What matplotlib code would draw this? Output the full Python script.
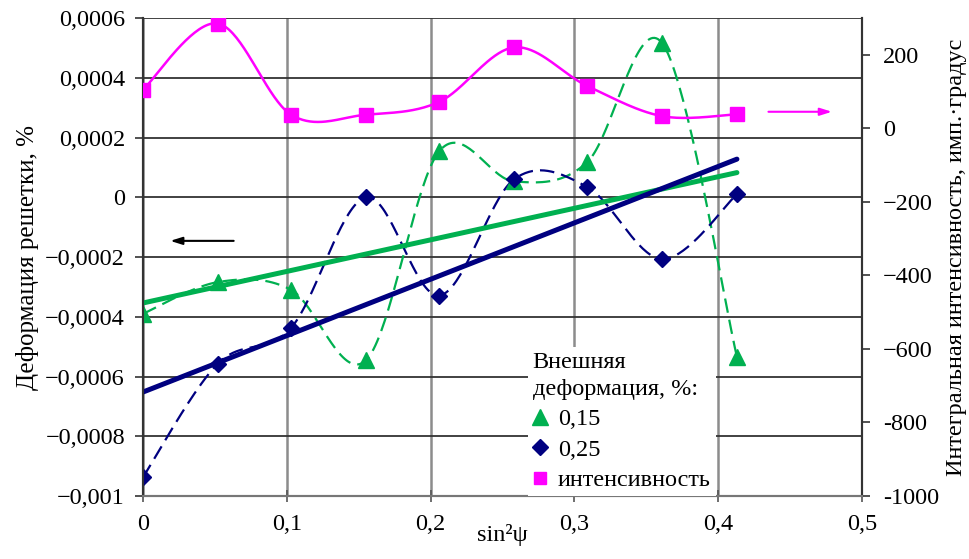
import numpy as np
import matplotlib
matplotlib.use("Agg")
import matplotlib.pyplot as plt
from matplotlib.lines import Line2D

plt.rcParams['font.family'] = ['Liberation Serif', 'DejaVu Serif']
plt.rcParams['axes.unicode_minus'] = True

# sin^2(psi) positions
sin2psi = [0.0, 0.052, 0.103, 0.155, 0.206, 0.258, 0.309, 0.361, 0.413]
# lattice strain, %, for external strain 0.15 % and 0.25 %
strain_015 = [-0.00039, -0.000284, -0.00031, -0.000546, 0.000154, 0.000053, 0.000118, 0.000516, -0.000534]
strain_025 = [-0.000937, -0.000557, -0.000437, 0.0, -0.000329, 0.00006, 0.000034, -0.000207, 0.00001]
# integral intensity, counts*degree
intensity = [105, 285, 37, 37, 72, 220, 115, 33, 38]

left_ticks = [-0.001, -0.0008, -0.0006, -0.0004, -0.0002, 0, 0.0002, 0.0004, 0.0006]
left_labels = ['−0,001', '−0,0008', '−0,0006', '−0,0004', '−0,0002', '0', '0,0002', '0,0004', '0,0006']
right_ticks = [-1000, -800, -600, -400, -200, 0, 200]
right_labels = ['-1000', '-800', '−600', '−400', '−200', '0', '200']
x_ticks = [0, 0.1, 0.2, 0.3, 0.4, 0.5]
x_labels = ['0', '0,1', '0,2', '0,3', '0,4', '0,5']

GREEN = '#00B050'
NAVY = '#000080'
MAGENTA = '#FF00FF'
FS = 17.5


def smooth(x, y, n=40):
    """Piecewise cubic Bezier through the points (Catmull-Rom style tangents)."""
    P = np.column_stack([x, y]).astype(float)
    out = []
    for i in range(len(P) - 1):
        p0 = P[i - 1] if i > 0 else P[i]
        p1, p2 = P[i], P[i + 1]
        p3 = P[i + 2] if i + 2 < len(P) else P[i + 1]
        c1 = p1 + (p2 - p0) / 6.0
        c2 = p2 - (p3 - p1) / 6.0
        t = np.linspace(0, 1, n)[:, None]
        seg = (1 - t) ** 3 * p1 + 3 * (1 - t) ** 2 * t * c1 + 3 * (1 - t) * t ** 2 * c2 + t ** 3 * p2
        out.append(seg if i == 0 else seg[1:])
    s = np.vstack(out)
    return s[:, 0], s[:, 1]


fig = plt.figure(figsize=(9.7, 5.59), dpi=100)
ax = fig.add_axes([0.1474, 0.1127, 0.7413, 0.8551])
ax2 = ax.twinx()

x = np.array(sin2psi)

# smoothed dashed curves through the measured strains
sx, sy = smooth(x, strain_015)
ax.plot(sx, sy, color=GREEN, lw=1.6, dashes=(6.5, 3.2), zorder=3)
sx, sy = smooth(x, strain_025)
ax.plot(sx, sy, color=NAVY, lw=1.6, dashes=(6.5, 3.2), zorder=3)

# linear trends
for vals, col in ((strain_015, GREEN), (strain_025, NAVY)):
    k, b = np.polyfit(x, vals, 1)
    ax.plot([x[0], x[-1]], [b + k * x[0], b + k * x[-1]], color=col, lw=3.6,
            solid_capstyle='round', zorder=4)

ax.plot(x, strain_015, ls='none', marker='^', ms=11, color=GREEN, mec=GREEN, zorder=5)
ax.plot(x, strain_025, ls='none', marker='D', ms=8, color=NAVY, mec=NAVY, zorder=5)

# intensity on the secondary axis
sx, sy = smooth(x, intensity)
ax2.plot(sx, sy, color=MAGENTA, lw=1.8, zorder=3)
ax2.plot(x, intensity, ls='none', marker='s', ms=10, color=MAGENTA, zorder=5)

ax.set_xlim(0, 0.5)
ax.set_ylim(-0.001, 0.0006)
ax2.set_ylim(-1000, 300)

ax.set_xticks(x_ticks)
ax.set_xticklabels(x_labels, fontsize=FS)
ax.set_yticks(left_ticks)
ax.set_yticklabels(left_labels, fontsize=FS)
ax2.set_yticks(right_ticks)
ax2.set_yticklabels(right_labels, fontsize=FS, ha='left')

ax.tick_params(axis='x', direction='inout', length=8, width=1.2, color='#555555', pad=9)
ax.tick_params(axis='y', direction='out', length=6, width=1.2, color='#333333', pad=7)
ax2.tick_params(axis='y', direction='out', length=6, width=1.2, color='#333333', pad=9)

ax.set_axisbelow(True)
ax.yaxis.grid(True, color='#333333', lw=1.3)
ax.xaxis.grid(True, color='#8c8c8c', lw=1.8)
ax.set_zorder(ax2.get_zorder() - 1)
ax.patch.set_visible(True)
ax2.patch.set_visible(False)

for a in (ax, ax2):
    a.spines['top'].set_visible(False)
    a.spines['left'].set_color('#333333')
    a.spines['right'].set_color('#333333')
    a.spines['bottom'].set_color('#777777')
    for s in a.spines.values():
        s.set_linewidth(1.5)

ax.set_xlabel('sin²ψ', fontsize=FS, labelpad=-8)
ax.set_ylabel('Деформация решетки, %', fontsize=FS + 0.5, labelpad=4)
ax2.set_ylabel('Интегральная интенсивность, имп.·градус', fontsize=FS, labelpad=5)

# arrows pointing to the relevant axis
ax.annotate('', xy=(0.017, -0.000146), xytext=(0.065, -0.000146),
            arrowprops=dict(arrowstyle='-|>,head_length=0.7,head_width=0.22', color='black', lw=1.5))
ax2.annotate('', xy=(0.481, 45), xytext=(0.433, 45),
             arrowprops=dict(arrowstyle='-|>,head_length=0.7,head_width=0.22', color=MAGENTA, lw=1.5))

handles = [
    Line2D([], [], ls='none', marker='^', ms=11, color=GREEN),
    Line2D([], [], ls='none', marker='D', ms=8, color=NAVY),
    Line2D([], [], ls='none', marker='s', ms=8, color=MAGENTA),
]
leg = ax2.legend(handles, ['0,15', '0,25', 'интенсивность'],
                 title='Внешняя\nдеформация, %:', title_fontsize=FS, fontsize=FS,
                 loc='lower left', bbox_to_anchor=(0.535, 0.0), borderaxespad=0,
                 frameon=True, fancybox=False, framealpha=1, facecolor='white',
                 edgecolor='none', handlelength=0.6, handletextpad=0.45,
                 labelspacing=0.35, borderpad=0.2, alignment='left')
leg.get_title().set_linespacing(1.35)
leg.set_zorder(10)

fig.savefig('out.png', dpi=100)
